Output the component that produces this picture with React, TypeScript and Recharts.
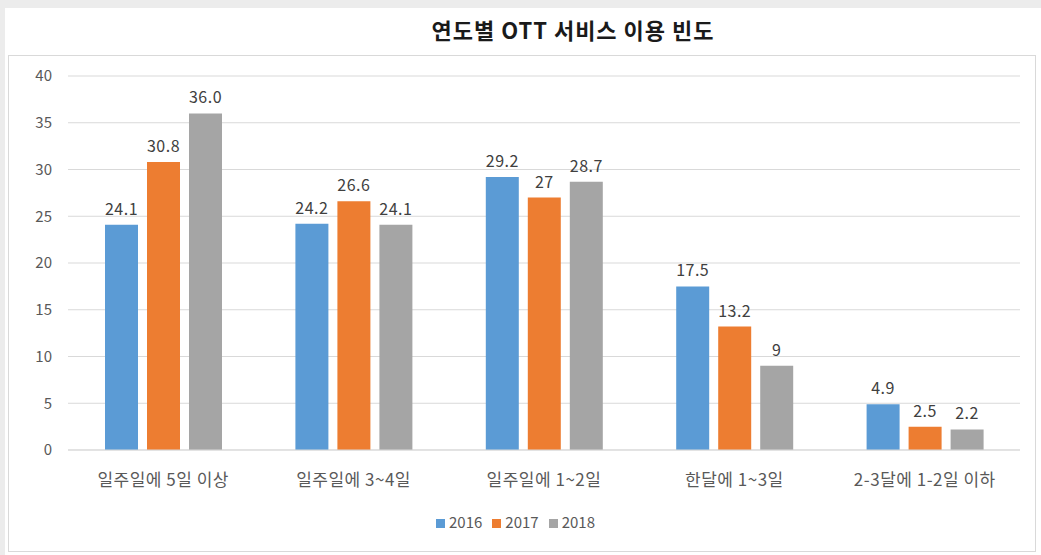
import React from 'react';
import { BarChart, Bar, XAxis, YAxis, CartesianGrid, Legend, LabelList } from 'recharts';

const categories = ['일주일에 5일 이상', '일주일에 3~4일', '일주일에 1~2일', '한달에 1~3일', '2-3달에 1-2일 이하'];
const values2016 = [24.1, 24.2, 29.2, 17.5, 4.9];
const values2017 = [30.8, 26.6, 27, 13.2, 2.5];
const values2018 = [36.0, 24.1, 28.7, 9, 2.2];
const yTicks = [0, 5, 10, 15, 20, 25, 30, 35, 40];

const data = categories.map((name, i) => ({
  name,
  y2016: values2016[i],
  y2017: values2017[i],
  y2018: values2018[i],
}));

const font = '"Noto Sans CJK KR", "Noto Sans", sans-serif';
const labelStyle = { fill: '#404040', fontSize: 16, letterSpacing: 0.5 };

const App: React.FC = () => {
  return (
    <div style={{ position: 'absolute', left: 0, top: 0, width: 1041, height: 555, background: '#ececec', fontFamily: font }}>
      <div style={{ position: 'absolute', left: 5, top: 8, width: 1036, height: 547, background: '#fff' }} />
      <div style={{ position: 'absolute', left: 8, top: 55, width: 1026, height: 495, border: '1px solid #d9d9d9' }} />
      <div style={{ position: 'absolute', left: 0, top: 13, width: 1146, textAlign: 'center', fontSize: 22, letterSpacing: 1, fontWeight: 700, color: '#1a1a1a' }}>
        연도별 OTT 서비스 이용 빈도
      </div>
      <div style={{ position: 'absolute', left: 0, top: 0 }}>
        <BarChart
          width={1041}
          height={555}
          data={data}
          margin={{ top: 76, right: 21, left: 18, bottom: 53 }}
          barSize={33}
          barGap={9}
        >
          <CartesianGrid vertical={false} stroke="#d9d9d9" />
          <XAxis
            dataKey="name"
            axisLine={{ stroke: '#d9d9d9' }}
            tickLine={false}
            tickMargin={18}
            tick={{ fill: '#595959', fontSize: 17, letterSpacing: 0.5, fontFamily: font }}
            interval={0}
            height={30}
          />
          <YAxis
            domain={[0, 40]}
            ticks={yTicks}
            axisLine={false}
            tickLine={false}
            tickSize={0}
            tickMargin={16}
            width={50}
            tick={{ fill: '#595959', fontSize: 15, fontFamily: font }}
          />
          <Legend
            verticalAlign="bottom"
            iconType="square"
            iconSize={9}
            wrapperStyle={{ position: 'absolute', top: 511, left: 0, width: 1041, height: 22, fontSize: 15, color: '#595959' }}
            formatter={(v) => <span style={{ color: '#595959' }}>{v}</span>}
          />
          <Bar dataKey="y2016" name="2016" fill="#5b9bd5" isAnimationActive={false}>
            <LabelList dataKey="y2016" position="top" offset={10} {...labelStyle} />
          </Bar>
          <Bar dataKey="y2017" name="2017" fill="#ed7d31" isAnimationActive={false}>
            <LabelList dataKey="y2017" position="top" offset={10} {...labelStyle} />
          </Bar>
          <Bar dataKey="y2018" name="2018" fill="#a5a5a5" isAnimationActive={false}>
            <LabelList dataKey="y2018" position="top" offset={10} {...labelStyle} formatter={(v: number) => (v === 36 ? '36.0' : v)} />
          </Bar>
        </BarChart>
      </div>
    </div>
  );
};

export default App;
